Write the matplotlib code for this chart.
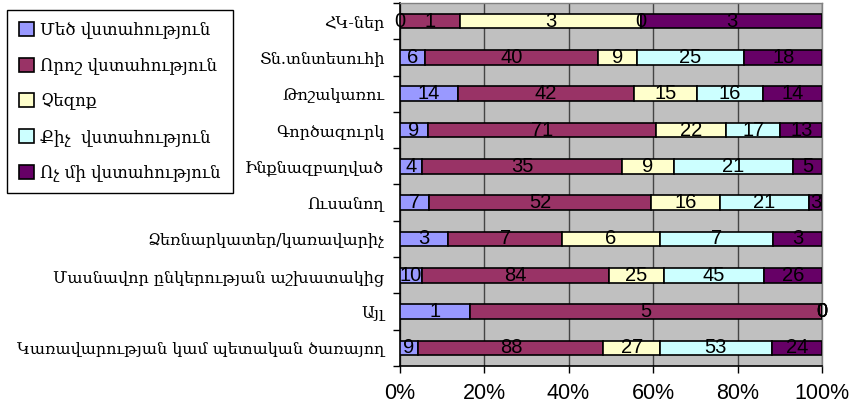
import matplotlib
matplotlib.use("Agg")
import matplotlib.pyplot as plt
import numpy as np
from matplotlib.ticker import FixedLocator, FuncFormatter
from matplotlib.patches import Patch

categories = [
    "ՀԿ-ներ",
    "Տն.տնտեսուհի",
    "Թոշակառու",
    "Գործազուրկ",
    "Ինքնազբաղված",
    "Ուսանող",
    "Ձեռնարկատեր/կառավարիչ",
    "Մասնավոր ընկերության աշխատակից",
    "Այլ",
    "Կառավարության կամ պետական ծառայող",
]
series_names = [
    "Մեծ վստահություն",
    "Որոշ վստահություն",
    "Չեզոք",
    "Քիչ  վստահություն",
    "Ոչ մի վստահություն",
]
big_trust = [0, 6, 14, 9, 4, 7, 3, 10, 1, 9]
some_trust = [1, 40, 42, 71, 35, 52, 7, 84, 5, 88]
neutral = [3, 9, 15, 22, 9, 16, 6, 25, 0, 27]
little_trust = [0, 25, 16, 17, 21, 21, 7, 45, 0, 53]
no_trust = [3, 18, 14, 13, 5, 3, 3, 26, 0, 24]
colors = ["#9999FF", "#993366", "#FFFFCC", "#CCFFFF", "#660066"]

values = np.array([big_trust, some_trust, neutral, little_trust, no_trust], dtype=float)
totals = values.sum(axis=0)
shares = values / totals * 100

arm_font = "DejaVu Serif"
num_font = "Liberation Sans"

fig = plt.figure(figsize=(8.5, 4.12), dpi=100)
W, H = 850, 412
ax = fig.add_axes([399.5 / W, (H - 366) / H, (822 - 399.5) / W, (366 - 3) / H])
ax.set_facecolor("#C0C0C0")

y = np.arange(len(categories))
left = np.zeros(len(categories))
for k in range(len(series_names)):
    ax.barh(y, shares[k], left=left, height=0.4, color=colors[k],
            edgecolor="black", linewidth=1.2, zorder=3, label=series_names[k])
    for i in range(len(categories)):
        cx = left[i] + shares[k][i] / 2
        ax.text(cx, y[i], f"{int(values[k][i])}", ha="center", va="center",
                fontsize=14.5, family=num_font, color="black", zorder=4)
    left += shares[k]

ax.set_xlim(0, 100)
ax.set_ylim(len(categories) - 0.5, -0.5)

ax.xaxis.set_major_locator(FixedLocator([0, 20, 40, 60, 80, 100]))
ax.xaxis.set_major_formatter(FuncFormatter(lambda v, p: f"{int(v)}%"))
ax.grid(axis="x", color="#444444", linewidth=1.0, zorder=1)
ax.tick_params(axis="x", direction="out", length=5, width=1, pad=7,
               labelsize=15.5)
for t in ax.get_xticklabels():
    t.set_family(num_font)

ax.yaxis.set_major_locator(FixedLocator(np.arange(-0.5, len(categories), 1)))
ax.yaxis.set_major_formatter(FuncFormatter(lambda v, p: ""))
ax.yaxis.set_minor_locator(FixedLocator(y))
ax.set_yticks(y, categories, minor=True)
ax.tick_params(axis="y", which="major", direction="out", length=5, width=1)
ax.tick_params(axis="y", which="minor", length=0, pad=11, labelsize=11.5)
for t in ax.get_yticklabels(minor=True):
    t.set_family(arm_font)

for side in ["left", "bottom"]:
    ax.spines[side].set_color("black")
    ax.spines[side].set_linewidth(1.2)
for side in ["top", "right"]:
    ax.spines[side].set_color("#808080")
    ax.spines[side].set_linewidth(1.0)

handles = [Patch(facecolor=c, edgecolor="black", linewidth=1.2) for c in colors]
leg = fig.legend(handles, series_names, loc="upper left",
                 bbox_to_anchor=(7 / W, 1 - 10 / H), frameon=True,
                 fancybox=False, edgecolor="black", framealpha=1,
                 prop={"family": arm_font, "size": 12},
                 handlelength=0.9, handleheight=0.9, handletextpad=0.4,
                 labelspacing=1.12, borderpad=0.7, borderaxespad=0)
leg.get_frame().set_linewidth(1.0)

fig.savefig("out.png", dpi=100)
